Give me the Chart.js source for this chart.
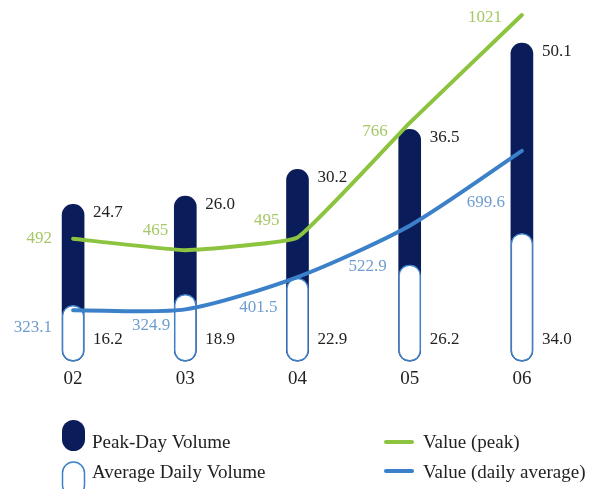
<!DOCTYPE html>
<html>
<head>
<meta charset="utf-8">
<script src="https://cdn.jsdelivr.net/npm/chart.js@4"></script>
<style>
  body { margin: 0; background: #fff; }
  canvas { display: block; }
</style>
</head>
<body>
<canvas id="volumeChart" width="595" height="489"></canvas>
<script>
// Datos
const years = ["02", "03", "04", "05", "06"];
const peakVolume = [24.7, 26.0, 30.2, 36.5, 50.1];
const avgVolume = [16.2, 18.9, 22.9, 26.2, 34.0];
const peakValue = [492, 465, 495, 766, 1021];
const avgValue = [323.1, 324.9, 401.5, 522.9, 699.6];

const NAVY = "#0b1c5a";
const GREEN = "#8cc43f";
const BLUE = "#3b80c8";
const SERIF = '"Liberation Serif", "Times New Roman", serif';
const AVG_AXIS_MIN = 2.35;

// desplazamiento de las etiquetas de las lineas (dx, dy)
const peakLabelShift = [[-21, 0], [-17, -20], [-18, -17], [-22, 9], [-20, 3]];
const avgLabelShift = [[-21, 17], [-15, 16], [-20, 31], [-23, 41], [-17, 52]];

const valueLabels = {
  id: "valueLabels",
  afterDatasetsDraw(chart) {
    const ctx = chart.ctx;
    const bottom = chart.chartArea.bottom;
    ctx.save();
    ctx.font = "17px " + SERIF;
    ctx.textBaseline = "middle";

    ctx.textAlign = "left";
    ctx.fillStyle = "#222";
    chart.getDatasetMeta(0).data.forEach((bar, i) => {
      ctx.fillText(peakVolume[i].toFixed(1), bar.x + 20, bar.y + 8);
    });
    chart.getDatasetMeta(1).data.forEach((bar, i) => {
      ctx.fillText(avgVolume[i].toFixed(1), bar.x + 20, bottom - 22);
    });

    ctx.textAlign = "right";
    ctx.fillStyle = "#a6c866";
    chart.getDatasetMeta(2).data.forEach((pt, i) => {
      ctx.fillText(String(peakValue[i]), pt.x + peakLabelShift[i][0], pt.y + peakLabelShift[i][1]);
    });
    ctx.fillStyle = "#6e9dd0";
    chart.getDatasetMeta(3).data.forEach((pt, i) => {
      ctx.fillText(avgValue[i].toFixed(1), pt.x + avgLabelShift[i][0], pt.y + avgLabelShift[i][1]);
    });
    ctx.restore();
  }
};

const legendBlock = {
  id: "legendBlock",
  afterDraw(chart) {
    const ctx = chart.ctx;
    ctx.save();
    // capsulas
    ctx.fillStyle = NAVY;
    ctx.beginPath();
    ctx.roundRect(62, 420, 23, 31, 11.5);
    ctx.fill();
    ctx.fillStyle = "#fff";
    ctx.strokeStyle = BLUE;
    ctx.lineWidth = 1.5;
    ctx.beginPath();
    ctx.roundRect(62.5, 462, 22, 34, 11);
    ctx.fill();
    ctx.stroke();
    // lineas
    ctx.lineCap = "round";
    ctx.lineWidth = 4;
    ctx.strokeStyle = GREEN;
    ctx.beginPath(); ctx.moveTo(386, 442); ctx.lineTo(412, 442); ctx.stroke();
    ctx.strokeStyle = BLUE;
    ctx.beginPath(); ctx.moveTo(386, 471); ctx.lineTo(412, 471); ctx.stroke();
    // textos
    ctx.font = "19px " + SERIF;
    ctx.fillStyle = "#222";
    ctx.textBaseline = "middle";
    ctx.textAlign = "left";
    ctx.fillText("Peak-Day Volume", 92, 443);
    ctx.fillText("Average Daily Volume", 92, 473);
    ctx.fillText("Value (peak)", 423, 443);
    ctx.fillText("Value (daily average)", 423, 473);
    ctx.restore();
  }
};

const ctx = document.getElementById("volumeChart").getContext("2d");
new Chart(ctx, {
  data: {
    labels: years,
    datasets: [
      {
        type: "bar",
        label: "Peak-Day Volume",
        data: peakVolume,
        yAxisID: "yPeak",
        backgroundColor: NAVY,
        borderRadius: 11,
        borderSkipped: false,
        barThickness: 22,
        grouped: false,
        clip: false,
        order: 3,
      },
      {
        type: "bar",
        label: "Average Daily Volume",
        data: avgVolume,
        yAxisID: "yAvg",
        base: AVG_AXIS_MIN,
        backgroundColor: "#fff",
        borderColor: BLUE,
        borderWidth: 1.5,
        borderRadius: 11,
        borderSkipped: false,
        barThickness: 22,
        grouped: false,
        clip: false,
        order: 2,
      },
      {
        type: "line",
        label: "Value (peak)",
        data: peakValue,
        yAxisID: "yValue",
        borderColor: GREEN,
        borderWidth: 4,
        pointRadius: 0,
        tension: 0.1,
        borderCapStyle: "round",
        clip: false,
        order: 0,
      },
      {
        type: "line",
        label: "Value (daily average)",
        data: avgValue,
        yAxisID: "yValue",
        borderColor: BLUE,
        borderWidth: 4,
        pointRadius: 0,
        tension: 0.25,
        borderCapStyle: "round",
        clip: false,
        order: 1,
      },
    ],
  },
  options: {
    responsive: false,
    animation: false,
    layout: { padding: { left: 17, right: 17, top: 5, bottom: 93 } },
    plugins: {
      legend: { display: false },
      tooltip: { enabled: false },
    },
    scales: {
      x: {
        offset: true,
        grid: { display: false, drawTicks: false },
        border: { display: false },
        ticks: { color: "#222", padding: 6, font: { family: SERIF, size: 19 } },
      },
      yPeak: { display: false, min: 0, max: 56.1 },
      yAvg: { display: false, min: AVG_AXIS_MIN, max: 90.5 },
      yValue: { display: false, min: 202.4, max: 1044.7 },
    },
  },
  plugins: [valueLabels, legendBlock],
});
</script>
</body>
</html>
